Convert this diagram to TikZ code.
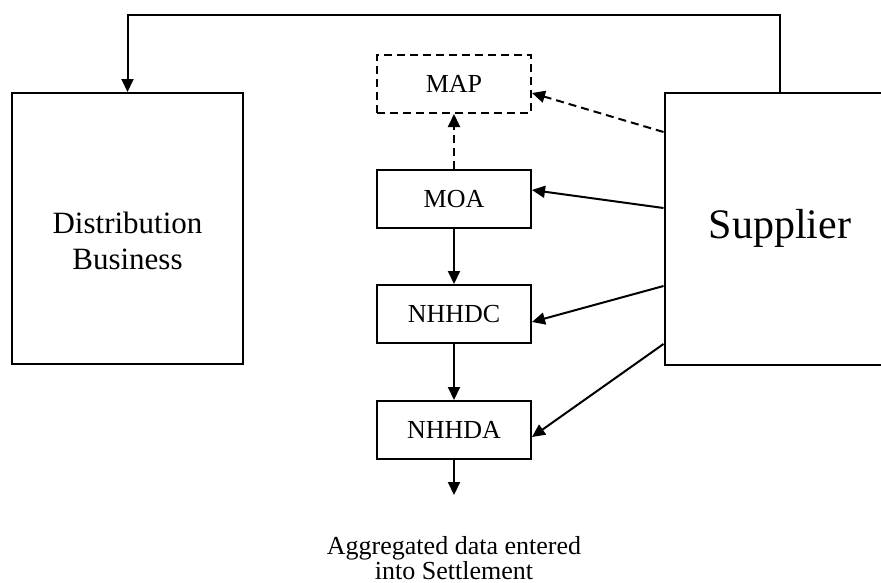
\documentclass[tikz,border=0pt]{standalone}
\usepackage{fontspec}
\setmainfont{Liberation Serif}
\usetikzlibrary{arrows.meta}

\begin{document}
\begin{tikzpicture}[x=1pt, y=-1pt]
        \tikzstyle{every node}=[rectangle, draw=black, line width=2pt, inner sep=0pt, align=center, font=\fontsize{26}{29}\selectfont, text=black]
        \tikzstyle{agent}=[minimum width=154pt, minimum height=58pt]
        \tikzstyle{party}=[minimum width=231pt, minimum height=271pt]
        \tikzstyle{flow}=[line width=2pt, -{Triangle[length=13pt, width=12pt]}]
        \tikzstyle{optional}=[dash pattern=on 8pt off 5pt]

        \clip (0,0) rectangle (881,582);

        \node[party] (dist) at (127.5,228.5) {};
        \node[draw=none, font=\fontsize{31}{36}\selectfont] (distname) at (127.5,241) {Distribution \\ Business};
        \node[party, minimum height=272pt, font=\fontsize{42}{46}\selectfont] (sup) at (780,229) {};
        \node[draw=none, font=\fontsize{42}{46}\selectfont] (supname) at (780,228) {Supplier};

        \node[agent, optional] (map)   at (454,84)  {MAP};
        \node[agent]           (moa)   at (454,199) {MOA};
        \node[agent]           (nhhdc) at (454,314) {NHHDC};
        \node[agent]           (nhhda) at (454,430) {NHHDA};

        \coordinate (out) at (454,495);
        \node[draw=none, font=\fontsize{26}{23}\selectfont] (settle) at (454,558) {Aggregated data entered \\ into Settlement};

        \draw[flow] (sup.north) -- ([yshift=77pt]sup.north) -| (dist.north);

        \draw[flow, optional] (moa) -- (map);
        \draw[flow] (moa) -- (nhhdc);
        \draw[flow] (nhhdc) -- (nhhda);
        \draw[flow] (nhhda) -- (out);

        \draw[flow, optional] ([yshift=97pt]sup.west) -- ([yshift=-9pt]map.east);
        \draw[flow] ([yshift=21pt]sup.west) -- ([yshift=9pt]moa.east);
        \draw[flow] ([yshift=-57pt]sup.west) -- ([yshift=-8pt]nhhdc.east);
        \draw[flow] ([yshift=-115pt]sup.west) -- ([yshift=-7pt]nhhda.east);
\end{tikzpicture}
\end{document}
